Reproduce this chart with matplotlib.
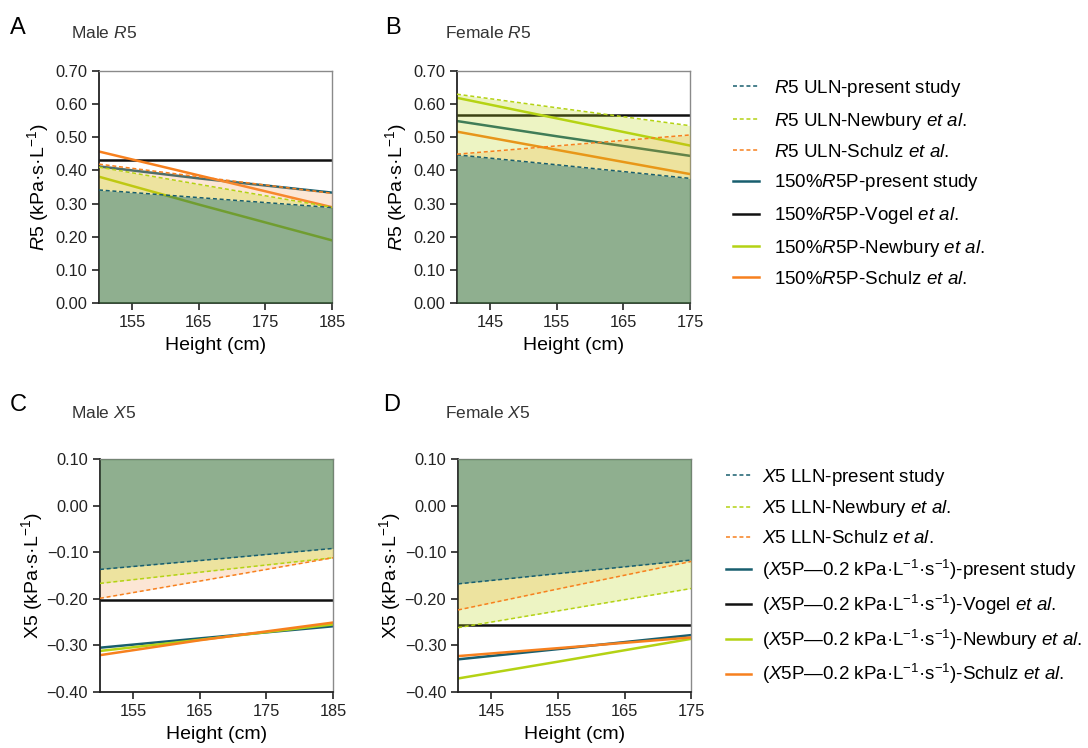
import matplotlib
matplotlib.use("Agg")
import matplotlib.pyplot as plt
from matplotlib.lines import Line2D
import numpy as np

plt.rcParams['font.family'] = ['Liberation Sans', 'DejaVu Sans']
plt.rcParams['mathtext.fontset'] = 'custom'
plt.rcParams['mathtext.rm'] = 'Liberation Sans'
plt.rcParams['mathtext.it'] = 'Liberation Sans:italic'
plt.rcParams['mathtext.bf'] = 'Liberation Sans:bold'

# ---- data ----
male_h = [150, 165, 185]
female_h = [140, 155, 175]

# Male R5
mR5_uln_present = [0.341, 0.318, 0.288]
mR5_uln_newbury = [0.410, 0.358, 0.289]
mR5_uln_schulz = [0.419, 0.381, 0.331]
mR5_p_present = [0.412, 0.376, 0.333]
mR5_p_vogel = [0.431, 0.431, 0.431]
mR5_p_newbury = [0.381, 0.297, 0.189]
mR5_p_schulz = [0.457, 0.385, 0.289]

# Female R5
fR5_uln_present = [0.447, 0.417, 0.376]
fR5_uln_newbury = [0.630, 0.589, 0.535]
fR5_uln_schulz = [0.449, 0.474, 0.507]
fR5_p_present = [0.549, 0.503, 0.444]
fR5_p_vogel = [0.567, 0.567, 0.567]
fR5_p_newbury = [0.619, 0.557, 0.475]
fR5_p_schulz = [0.517, 0.462, 0.389]

# Male X5
mX5_lln_present = [-0.137, -0.118, -0.092]
mX5_lln_newbury = [-0.167, -0.143, -0.112]
mX5_lln_schulz = [-0.199, -0.162, -0.112]
mX5_p_present = [-0.305, -0.285, -0.259]
mX5_p_vogel = [-0.203, -0.203, -0.203]
mX5_p_newbury = [-0.312, -0.288, -0.255]
mX5_p_schulz = [-0.321, -0.289, -0.251]

# Female X5
fX5_lln_present = [-0.168, -0.146, -0.117]
fX5_lln_newbury = [-0.262, -0.226, -0.178]
fX5_lln_schulz = [-0.224, -0.179, -0.120]
fX5_p_present = [-0.330, -0.308, -0.278]
fX5_p_vogel = [-0.257, -0.257, -0.257]
fX5_p_newbury = [-0.371, -0.335, -0.286]
fX5_p_schulz = [-0.323, -0.306, -0.283]

male_ticks = [155, 165, 175, 185]
female_ticks = [145, 155, 165, 175]
r5_ticks = [0.0, 0.1, 0.2, 0.3, 0.4, 0.5, 0.6, 0.7]
x5_ticks = [-0.4, -0.3, -0.2, -0.1, 0.0, 0.1]

c_present = '#185e6e'
c_vogel = '#111111'
c_newbury = '#b4d214'
c_schulz = '#f7801e'
c_green = '#447a44'
c_lime = '#bbd713'
c_khaki = '#d2bb11'
c_peach = '#f79f5b'

dash = (0, (2.6, 1.8))


def panel(ax, h, uln, sol, vogel, kind):
    h = np.array(h, dtype=float)
    p, n, s = [np.array(a) for a in uln]
    # solid lines sit under the translucent bands
    ax.plot(h, sol[0], color=c_present, lw=1.8, zorder=2)
    ax.plot(h, vogel, color=c_vogel, lw=1.8, zorder=2)
    ax.plot(h, sol[1], color=c_newbury, lw=1.8, zorder=2)
    ax.plot(h, sol[2], color=c_schulz, lw=1.8, zorder=2)
    if kind == 'R5':
        ax.fill_between(h, 0, p, color=c_green, alpha=0.6, lw=0, zorder=3)
        both = np.minimum(n, s)
        ax.fill_between(h, p, both, where=both >= p, interpolate=True,
                        color=c_khaki, alpha=0.4, lw=0, zorder=3)
        lo = np.maximum(p, s)
        ax.fill_between(h, lo, n, where=n >= lo, interpolate=True,
                        color=c_lime, alpha=0.25, lw=0, zorder=3)
        lo = np.maximum(p, n)
        ax.fill_between(h, lo, s, where=s >= lo, interpolate=True,
                        color=c_peach, alpha=0.25, lw=0, zorder=3)
    else:
        ax.fill_between(h, p, 0.1, color=c_green, alpha=0.6, lw=0, zorder=3)
        both = np.maximum(n, s)
        ax.fill_between(h, both, p, where=both <= p, interpolate=True,
                        color=c_khaki, alpha=0.4, lw=0, zorder=3)
        hi = np.minimum(p, s)
        ax.fill_between(h, n, hi, where=n <= hi, interpolate=True,
                        color=c_lime, alpha=0.25, lw=0, zorder=3)
        hi = np.minimum(p, n)
        ax.fill_between(h, s, hi, where=s <= hi, interpolate=True,
                        color=c_peach, alpha=0.25, lw=0, zorder=3)
    ax.plot(h, p, color=c_present, lw=1.1, ls=dash, zorder=4)
    ax.plot(h, n, color=c_newbury, lw=1.1, ls=dash, zorder=4)
    ax.plot(h, s, color=c_schulz, lw=1.1, ls=dash, zorder=4)

    ax.set_xlim(h[0], h[-1])
    for side in ['top', 'right']:
        ax.spines[side].set_color('#8a8a8a')
        ax.spines[side].set_linewidth(1.0)
    for side in ['left', 'bottom']:
        ax.spines[side].set_color('#222222')
        ax.spines[side].set_linewidth(1.3)
    ax.tick_params(direction='out', length=5, width=1.2, labelsize=11.8,
                   colors='#222222')
    ax.set_xlabel('Height (cm)', fontsize=14, labelpad=5)


fig = plt.figure(figsize=(10.88, 7.48), dpi=100)
axA = fig.add_axes([0.0910, 0.5949, 0.2142, 0.3102])
axB = fig.add_axes([0.4200, 0.5949, 0.2142, 0.3102])
axC = fig.add_axes([0.0919, 0.0749, 0.2142, 0.3115])
axD = fig.add_axes([0.4210, 0.0749, 0.2142, 0.3115])

panel(axA, male_h, (mR5_uln_present, mR5_uln_newbury, mR5_uln_schulz),
      (mR5_p_present, mR5_p_newbury, mR5_p_schulz), mR5_p_vogel, 'R5')
panel(axB, female_h, (fR5_uln_present, fR5_uln_newbury, fR5_uln_schulz),
      (fR5_p_present, fR5_p_newbury, fR5_p_schulz), fR5_p_vogel, 'R5')
panel(axC, male_h, (mX5_lln_present, mX5_lln_newbury, mX5_lln_schulz),
      (mX5_p_present, mX5_p_newbury, mX5_p_schulz), mX5_p_vogel, 'X5')
panel(axD, female_h, (fX5_lln_present, fX5_lln_newbury, fX5_lln_schulz),
      (fX5_p_present, fX5_p_newbury, fX5_p_schulz), fX5_p_vogel, 'X5')

for ax in [axA, axB]:
    ax.set_ylim(0, 0.7)
    ax.set_yticks(r5_ticks)
    ax.set_yticklabels(['%.2f' % v for v in r5_ticks])
    ax.set_ylabel(r'$\mathit{R}$5 (kPa·s·L$^{-1}$)', fontsize=14, labelpad=3)
for ax in [axC, axD]:
    ax.set_ylim(-0.4, 0.1)
    ax.set_yticks(x5_ticks)
    ax.set_yticklabels([('%.2f' % v).replace('-', '\u2212') for v in x5_ticks])
    ax.set_ylabel('X5 (kPa·s·L$^{-1}$)', fontsize=14, labelpad=1)
axA.set_xticks(male_ticks)
axC.set_xticks(male_ticks)
axB.set_xticks(female_ticks)
axD.set_xticks(female_ticks)

# panel letters and titles
fig.text(0.009, 0.962, 'A', fontsize=17, va='center')
fig.text(0.354, 0.962, 'B', fontsize=17, va='center')
fig.text(0.009, 0.459, 'C', fontsize=17, va='center')
fig.text(0.352, 0.459, 'D', fontsize=17, va='center')
fig.text(0.065, 0.956, r'Male $\mathit{R5}$', fontsize=12.5, va='center', color='#333333')
fig.text(0.409, 0.956, r'Female $\mathit{R5}$', fontsize=12.5, va='center', color='#333333')
fig.text(0.065, 0.448, r'Male $\mathit{X5}$', fontsize=12.5, va='center', color='#333333')
fig.text(0.409, 0.448, r'Female $\mathit{X5}$', fontsize=12.5, va='center', color='#333333')

# legends
etal = r'$\mathit{et\ al.}$'
r5_labels = [r'$\mathit{R}$5 ULN-present study',
             r'$\mathit{R}$5 ULN-Newbury ' + etal,
             r'$\mathit{R}$5 ULN-Schulz ' + etal,
             r'150%$\mathit{R}$5P-present study',
             r'150%$\mathit{R}$5P-Vogel ' + etal,
             r'150%$\mathit{R}$5P-Newbury ' + etal,
             r'150%$\mathit{R}$5P-Schulz ' + etal]
x5p = r'($\mathit{X}$5P—0.2 kPa·L$^{-1}$·s$^{-1}$)'
x5_labels = [r'$\mathit{X}$5 LLN-present study',
             r'$\mathit{X}$5 LLN-Newbury ' + etal,
             r'$\mathit{X}$5 LLN-Schulz ' + etal,
             x5p + '-present study',
             x5p + '-Vogel ' + etal,
             x5p + '-Newbury ' + etal,
             x5p + '-Schulz ' + etal]
colors = [c_present, c_newbury, c_schulz, c_present, c_vogel, c_newbury, c_schulz]
styles = [dash, dash, dash, '-', '-', '-', '-']
widths = [1.1, 1.1, 1.1, 1.8, 1.8, 1.8, 1.8]
handles = [Line2D([0], [0], color=c, ls=s, lw=w) for c, s, w in zip(colors, styles, widths)]

fig.legend(handles, r5_labels, loc='upper left', bbox_to_anchor=(0.674, 0.896),
           frameon=False, fontsize=13.5, handlelength=1.35, handletextpad=0.8,
           labelspacing=0.63, borderpad=0, borderaxespad=0)
fig.legend(handles, x5_labels, loc='upper left', bbox_to_anchor=(0.667, 0.376),
           frameon=False, fontsize=13.5, handlelength=1.35, handletextpad=0.6,
           labelspacing=0.57, borderpad=0, borderaxespad=0)

fig.savefig('out.png', dpi=100)
